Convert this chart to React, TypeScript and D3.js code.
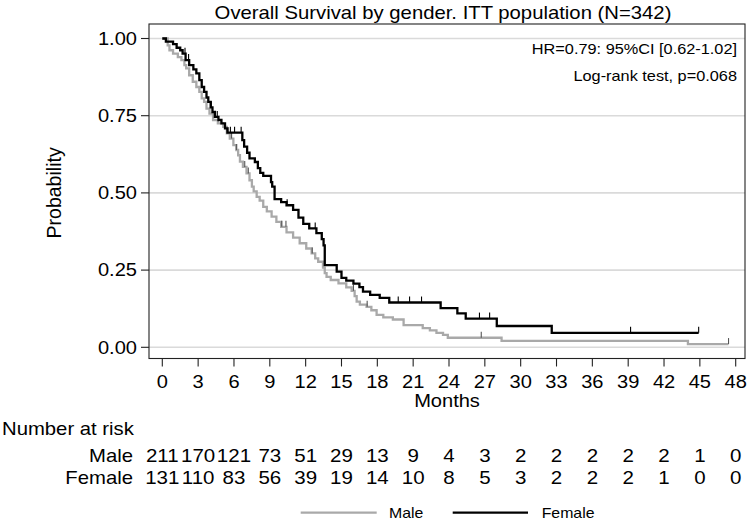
import React from 'react';
import * as d3 from 'd3';

const monthTicks = [0, 3, 6, 9, 12, 15, 18, 21, 24, 27, 30, 33, 36, 39, 42, 45, 48];
const probTicks = [0, 0.25, 0.5, 0.75, 1];
const probLabels = ['0.00', '0.25', '0.50', '0.75', '1.00'];
const riskMale = [211, 170, 121, 73, 51, 29, 13, 9, 4, 3, 2, 2, 2, 2, 2, 1, 0];
const riskFemale = [131, 110, 83, 56, 39, 19, 14, 10, 8, 5, 3, 2, 2, 2, 1, 0, 0];

// [month, survival after the step]
const maleEvents: [number, number][] = [
  [0, 1], [0.45, 0.978], [0.6, 0.962], [0.9, 0.951], [1.3, 0.94], [1.6, 0.93], [1.85, 0.914],
  [2.0, 0.903], [2.25, 0.881], [2.55, 0.86], [2.85, 0.843], [3.1, 0.827], [3.3, 0.806],
  [3.5, 0.795], [3.7, 0.773], [3.95, 0.757], [4.25, 0.736], [4.65, 0.725], [5.1, 0.714],
  [5.4, 0.693], [5.65, 0.676], [5.95, 0.655], [6.2, 0.639], [6.35, 0.622], [6.5, 0.601],
  [6.75, 0.584], [7.05, 0.563], [7.3, 0.541], [7.5, 0.52], [7.65, 0.505], [7.9, 0.487],
  [8.15, 0.475], [8.45, 0.455], [8.75, 0.44], [9.15, 0.423], [9.55, 0.406], [9.95, 0.39],
  [10.4, 0.372], [10.95, 0.355], [11.5, 0.337], [12.05, 0.32], [12.5, 0.304], [12.8, 0.288],
  [13.05, 0.277], [13.45, 0.258], [13.6, 0.24], [13.75, 0.228], [14.1, 0.218], [14.75, 0.207],
  [15.4, 0.194], [15.85, 0.183], [16.1, 0.166], [16.27, 0.148], [16.54, 0.138], [17.1, 0.131],
  [17.5, 0.12], [17.94, 0.105], [18.5, 0.097], [19.3, 0.09], [20.2, 0.072], [21.8, 0.062],
  [22.4, 0.055], [22.95, 0.047], [23.5, 0.04], [23.9, 0.031], [28.4, 0.021], [44.0, 0.0105],
];
const maleEnd = 47.4;
const maleCensor = [5.5, 5.8, 6.2, 6.9, 7.2, 10.0, 10.35, 12.55, 16.0, 17.15, 26.7, 47.4];

const femaleEvents: [number, number][] = [
  [0, 1], [0.3, 0.99], [0.9, 0.982], [1.2, 0.97], [1.5, 0.962], [1.7, 0.951], [1.95, 0.93],
  [2.25, 0.914], [2.6, 0.9], [2.85, 0.887], [3.1, 0.865], [3.3, 0.843], [3.5, 0.827],
  [3.7, 0.809], [3.85, 0.795], [4.05, 0.777], [4.2, 0.762], [4.4, 0.746], [4.7, 0.736],
  [4.95, 0.725], [5.25, 0.709], [5.45, 0.695], [6.7, 0.671], [6.85, 0.65], [7.1, 0.63],
  [7.3, 0.612], [7.75, 0.6], [8.0, 0.58], [8.2, 0.565], [8.45, 0.555], [9.1, 0.535],
  [9.2, 0.52], [9.4, 0.48], [9.95, 0.47], [10.4, 0.46], [10.95, 0.445], [11.4, 0.42],
  [11.8, 0.4], [12.3, 0.385], [12.9, 0.37], [13.35, 0.35], [13.5, 0.33], [13.6, 0.266],
  [14.6, 0.245], [15.0, 0.225], [15.4, 0.216], [16.0, 0.206], [16.5, 0.195], [16.8, 0.18],
  [17.4, 0.17], [18.2, 0.16], [19.0, 0.145], [23.3, 0.127], [24.7, 0.11], [25.4, 0.093],
  [28.0, 0.069], [32.6, 0.047],
];
const femaleEnd = 44.9;
const femaleCensor = [1.9, 2.2, 4.1, 4.4, 4.6, 5.7, 6.05, 6.6, 8.05, 10.45, 12.8, 19.75, 20.7, 21.7, 26.55, 27.4, 39.2, 44.9];

const FONT = "'Liberation Sans', Arial, Helvetica, sans-serif";
const SX = 1.14;

const W = 750;
const H = 521;
const plotLeft = 149;
const plotRight = 745;
const plotTop = 24;
const plotBottom = 358.5;

const x = d3.scaleLinear().domain([0, 48]).range([162.3, 735.7]);
const y = d3.scaleLinear().domain([0, 1]).range([347.3, 38.5]);

function survAt(events: [number, number][], t: number) {
  let s = 1;
  for (const [et, es] of events) {
    if (et <= t) s = es;
    else break;
  }
  return s;
}

function T(props: { x: number; y: number; anchor?: string; size: number; children: React.ReactNode; sx?: number; fill?: string }) {
  const { x: tx, y: ty, anchor = 'start', size, children, sx = SX, fill = '#000' } = props;
  return (
    <text
      transform={`translate(${tx},${ty}) scale(${sx},1)`}
      textAnchor={anchor}
      fontSize={size}
      fontFamily={FONT}
      fill={fill}
    >
      {children}
    </text>
  );
}

const lineGen = d3
  .line<[number, number]>()
  .x((d) => x(d[0]))
  .y((d) => y(d[1]))
  .curve(d3.curveStepAfter);

function Curve({ events, end, censor, color, tickColor }: { events: [number, number][]; end: number; censor: number[]; color: string; tickColor: string }) {
  const pts: [number, number][] = [...events, [end, events[events.length - 1][1]]];
  return (
    <g>
      <path d={lineGen(pts) || ''} fill="none" stroke={color} strokeWidth={2.3} strokeLinejoin="miter" />
      {censor.map((c, i) => {
        const s = survAt(events, c);
        return (
          <line key={i} x1={x(c)} x2={x(c)} y1={y(s)} y2={y(s) - 6} stroke={tickColor} strokeWidth={1.1} />
        );
      })}
    </g>
  );
}

export default function App() {
  return (
    <svg width={W} height={H} style={{ position: 'absolute', left: 0, top: 0, background: '#fff' }}>
      <rect x={0} y={0} width={W} height={H} fill="#fff" />
      {/* title */}
      <T x={443} y={19} anchor="middle" size={17.8}>Overall Survival by gender. ITT population (N=342)</T>

      {/* gridlines */}
      {probTicks.map((p) => (
        <line key={p} x1={plotLeft} x2={plotRight} y1={y(p)} y2={y(p)} stroke="#dadada" strokeWidth={1.6} />
      ))}

      {/* frame */}
      <rect x={plotLeft} y={plotTop} width={plotRight - plotLeft} height={plotBottom - plotTop} fill="none" stroke="#222" strokeWidth={1.1} />

      {/* y axis ticks and labels */}
      {probTicks.map((p, i) => (
        <g key={p}>
          <line x1={141} x2={plotLeft} y1={y(p)} y2={y(p)} stroke="#222" strokeWidth={1.1} />
          <T x={137} y={y(p) + 6.3} anchor="end" size={17.6}>{probLabels[i]}</T>
        </g>
      ))}
      <text transform={`translate(61,${(y(0) + y(1)) / 2}) rotate(-90)`} textAnchor="middle" fontSize={19.5} fontFamily={FONT}>Probability</text>

      {/* x axis ticks and labels */}
      {monthTicks.map((m) => (
        <g key={m}>
          <line x1={x(m)} x2={x(m)} y1={plotBottom} y2={plotBottom + 8} stroke="#222" strokeWidth={1.1} />
          <T x={x(m)} y={387.5} anchor="middle" size={17.6}>{m}</T>
        </g>
      ))}
      <T x={447} y={406.5} anchor="middle" size={17.6}>Months</T>

      {/* annotations */}
      <T x={737} y={54} anchor="end" size={14.3}>HR=0.79: 95%CI [0.62-1.02]</T>
      <T x={737} y={81} anchor="end" size={14.3}>Log-rank test, p=0.068</T>

      {/* curves */}
      <Curve events={maleEvents} end={maleEnd} censor={maleCensor} color="#a9a9a9" tickColor="#555" />
      <Curve events={femaleEvents} end={femaleEnd} censor={femaleCensor} color="#000" tickColor="#000" />

      {/* number at risk */}
      <T x={2} y={435} anchor="start" size={17.8}>Number at risk</T>
      <T x={133} y={462} anchor="end" size={17.8}>Male</T>
      <T x={133} y={484} anchor="end" size={17.8}>Female</T>
      {monthTicks.map((m, i) => (
        <g key={m}>
          <T x={x(m)} y={462} anchor="middle" size={18}>{riskMale[i]}</T>
          <T x={x(m)} y={484} anchor="middle" size={18}>{riskFemale[i]}</T>
        </g>
      ))}

      {/* legend */}
      <line x1={300.7} x2={376.7} y1={512.7} y2={512.7} stroke="#a9a9a9" strokeWidth={2.3} />
      <T x={389} y={518} anchor="start" size={13.9}>Male</T>
      <line x1={452.7} x2={528} y1={512.7} y2={512.7} stroke="#000" strokeWidth={2.3} />
      <T x={541.7} y={518} anchor="start" size={13.9}>Female</T>
    </svg>
  );
}
